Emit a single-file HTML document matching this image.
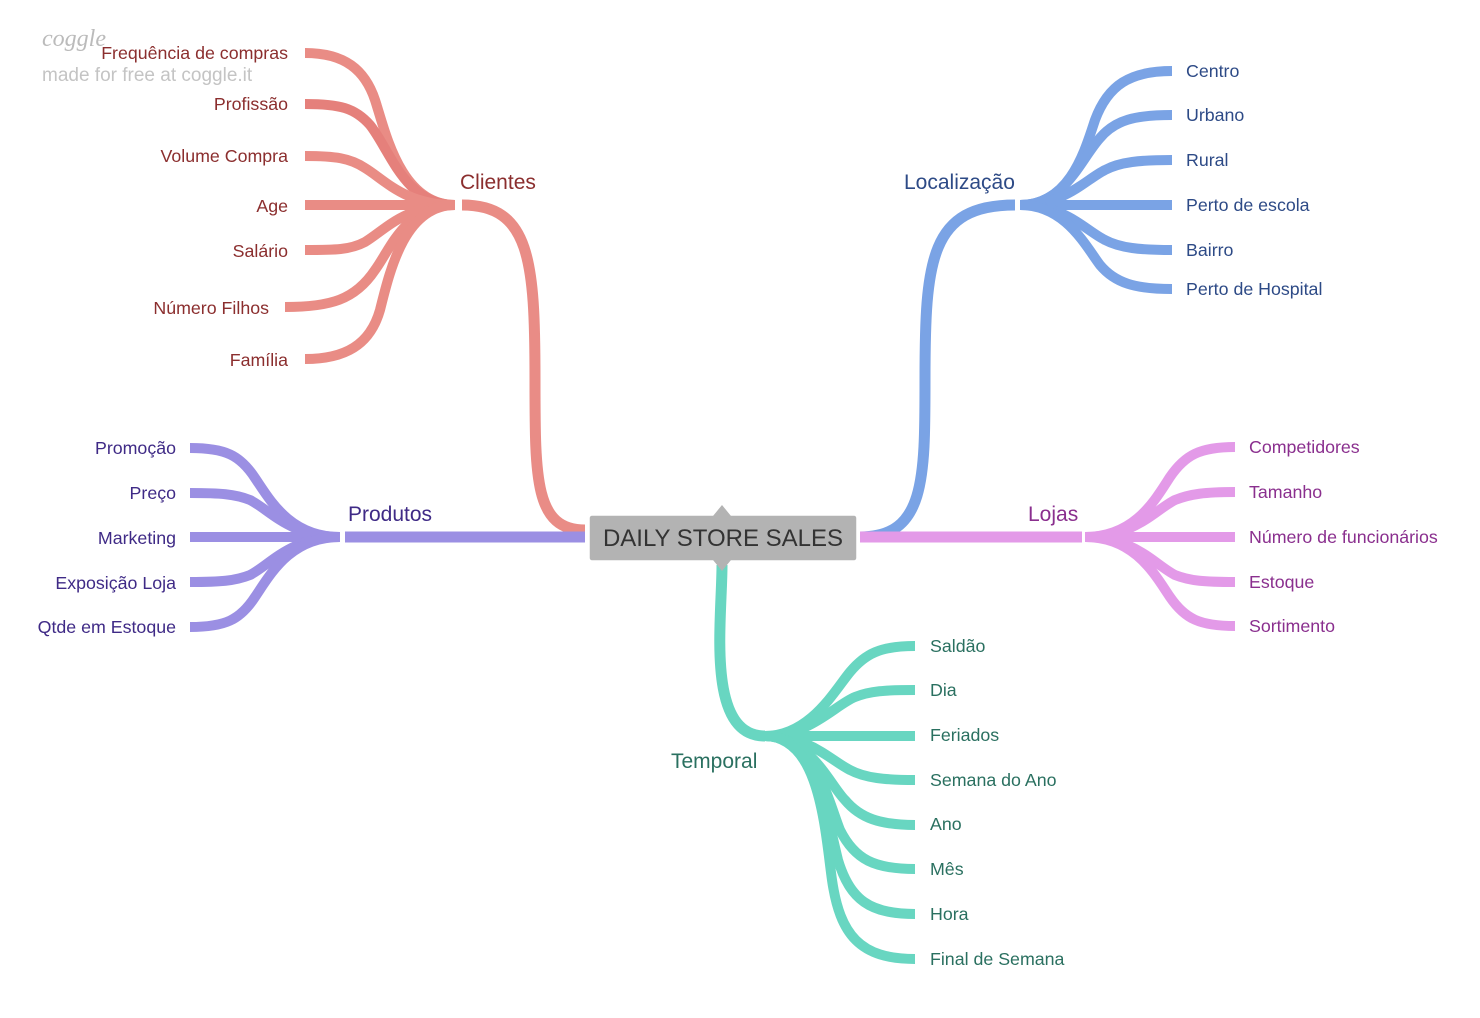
<!DOCTYPE html>
<html><head><meta charset="utf-8"><style>
html,body{margin:0;padding:0;background:#fff;}
svg{display:block;font-family:"Liberation Sans",sans-serif;}
</style></head><body>
<svg width="1480" height="1018" viewBox="0 0 1480 1018" xmlns="http://www.w3.org/2000/svg">
<g fill="none" stroke-linecap="butt">
<g stroke="#e8867f" stroke-width="10" opacity="0.95">
<path d="M585 530 C535 530 535 480 535 380 C535 260 530 205 462 205" stroke-width="11"/>
<path d="M455 205 C400 205 385 130 375 100 C365 70 345 53 305 53"/>
<path d="M455 205 C405 205 390 150 370 125 C355 108 340 104 305 104" stroke="#e47a74"/>
<path d="M455 205 C405 205 385 180 365 168 C350 158 335 156 305 156"/>
<path d="M455 205 L305 205"/>
<path d="M455 205 C405 205 385 230 365 242 C350 250 335 250 305 250"/>
<path d="M455 205 C405 205 390 250 375 270 C355 300 330 307 285 307"/>
<path d="M455 205 C405 205 390 270 380 310 C370 345 345 359 305 359"/>
</g>
<g stroke="#7aa3e5" stroke-width="10">
<path d="M860 537 C925 537 925 480 925 380 C925 260 930 205 1015 205" stroke-width="11"/>
<path d="M1020 205 C1070 205 1085 150 1095 120 C1108 85 1130 71 1172 71"/>
<path d="M1020 205 C1065 205 1080 160 1100 138 C1115 120 1135 115 1172 115"/>
<path d="M1020 205 C1065 205 1085 180 1105 170 C1120 162 1140 160 1172 160"/>
<path d="M1020 205 L1172 205"/>
<path d="M1020 205 C1065 205 1085 230 1105 240 C1120 248 1140 250 1172 250"/>
<path d="M1020 205 C1065 205 1085 245 1100 265 C1115 283 1135 289 1172 289"/>
</g>
<g stroke="#9b8fe3" stroke-width="10">
<path d="M585 537 L345 537" stroke-width="11"/>
<path d="M340 537 C290 537 270 500 255 478 C240 455 225 448 190 448"/>
<path d="M340 537 C290 537 270 510 250 500 C235 494 220 493 190 493"/>
<path d="M340 537 L190 537"/>
<path d="M340 537 C290 537 270 565 250 575 C235 581 220 582 190 582"/>
<path d="M340 537 C290 537 270 575 255 597 C240 620 225 627 190 627"/>
</g>
<g stroke="#e39ae8" stroke-width="10">
<path d="M860 537 L1082 537" stroke-width="11"/>
<path d="M1085 537 C1135 537 1155 500 1170 477 C1185 455 1200 447 1235 447"/>
<path d="M1085 537 C1135 537 1155 510 1175 500 C1190 494 1205 492 1235 492"/>
<path d="M1085 537 L1235 537"/>
<path d="M1085 537 C1135 537 1155 565 1175 575 C1190 581 1205 582 1235 582"/>
<path d="M1085 537 C1135 537 1155 575 1170 597 C1185 619 1200 626 1235 626"/>
</g>
<g stroke="#68d6c1" stroke-width="10">
<path d="M722 565 C722 620 705 736 765 736" stroke-width="11"/>
<path d="M765 736 C810 736 835 690 850 672 C865 654 880 646 915 646"/>
<path d="M765 736 C810 736 835 705 855 697 C870 691 885 690 915 690"/>
<path d="M765 736 L915 736"/>
<path d="M765 736 C810 736 830 760 850 770 C865 778 885 780 915 780"/>
<path d="M765 736 C810 736 830 785 845 800 C860 818 880 825 915 825"/>
<path d="M765 736 C815 736 828 800 840 830 C855 860 875 869 915 869"/>
<path d="M765 736 C815 736 828 820 838 860 C850 900 870 914 915 914"/>
<path d="M765 736 C820 736 825 830 832 880 C840 935 860 959 915 959"/>
</g>
</g>
<rect x="589" y="515" width="268" height="46" rx="3" fill="#b3b3b3" stroke="#fff" stroke-width="1.5"/>
<polygon points="713,516 722,505 731,516" fill="#b3b3b3"/>
<polygon points="713,560 722,571 731,560" fill="#b3b3b3"/>
<text x="723" y="546" font-size="24" fill="#333" text-anchor="middle">DAILY STORE SALES</text>
<text x="42" y="46" font-size="24" font-style="italic" fill="#bbb" font-family="Liberation Serif, serif">coggle</text>
<text x="42" y="81" font-size="19" fill="#c4c4c4">made for free at coggle.it</text>
<g font-size="21">
<text x="460" y="189" fill="#8b2e2e">Clientes</text>
<text x="904" y="189" fill="#2d4a86">Localização</text>
<text x="348" y="521" fill="#3f2a86">Produtos</text>
<text x="1028" y="521" fill="#8a2f8e">Lojas</text>
<text x="671" y="768" fill="#2a7060">Temporal</text>
</g>
<g font-size="17.8" fill="#8b2e2e" text-anchor="end">
<text x="288" y="59">Frequência de compras</text>
<text x="288" y="110">Profissão</text>
<text x="288" y="162">Volume Compra</text>
<text x="288" y="212">Age</text>
<text x="288" y="257">Salário</text>
<text x="269" y="314">Número Filhos</text>
<text x="288" y="366">Família</text>
</g>
<g font-size="17.8" fill="#3f2a86" text-anchor="end">
<text x="176" y="454">Promoção</text>
<text x="176" y="499">Preço</text>
<text x="176" y="544">Marketing</text>
<text x="176" y="589">Exposição Loja</text>
<text x="176" y="633">Qtde em Estoque</text>
</g>
<g font-size="17.8" fill="#2d4a86">
<text x="1186" y="77">Centro</text>
<text x="1186" y="121">Urbano</text>
<text x="1186" y="166">Rural</text>
<text x="1186" y="211">Perto de escola</text>
<text x="1186" y="256">Bairro</text>
<text x="1186" y="295">Perto de Hospital</text>
</g>
<g font-size="17.8" fill="#8a2f8e">
<text x="1249" y="453">Competidores</text>
<text x="1249" y="498">Tamanho</text>
<text x="1249" y="543">Número de funcionários</text>
<text x="1249" y="588">Estoque</text>
<text x="1249" y="632">Sortimento</text>
</g>
<g font-size="17.8" fill="#2a7060">
<text x="930" y="652">Saldão</text>
<text x="930" y="696">Dia</text>
<text x="930" y="741">Feriados</text>
<text x="930" y="786">Semana do Ano</text>
<text x="930" y="830">Ano</text>
<text x="930" y="875">Mês</text>
<text x="930" y="920">Hora</text>
<text x="930" y="965">Final de Semana</text>
</g>
</svg>
</body></html>
